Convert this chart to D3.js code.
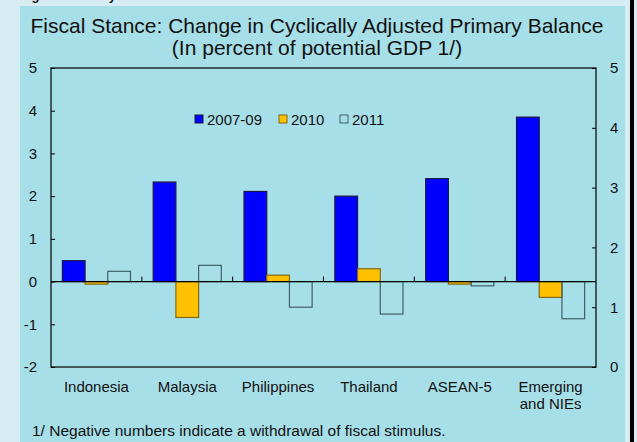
<!DOCTYPE html>
<meta charset="utf-8">
<style>
    body {
        margin: 0;
        background-color: #d6eef3;
    }

    svg {
        font-family: "Liberation Sans", Arial, sans-serif;
        display: block;
    }

    text {
        fill: #111;
    }
</style>

<body>
    <script src="https://cdn.jsdelivr.net/npm/d3@7"></script>
    <script>
        // data
        var categories = ["Indonesia", "Malaysia", "Philippines", "Thailand", "ASEAN-5", "Emerging|and NIEs"];
        var seriesNames = ["2007-09", "2010", "2011"];
        var v2007 = [0.49, 2.33, 2.11, 2.0, 2.41, 3.85];
        var v2010 = [-0.06, -0.84, 0.15, 0.30, -0.06, -0.37];
        var v2011 = [0.24, 0.38, -0.60, -0.76, -0.10, -0.87];
        var leftTicks = [-2, -1, 0, 1, 2, 3, 4, 5];
        var rightTicks = [0, 1, 2, 3, 4, 5];

        var fills = ["#0000ff", "#ffc000", "none"],
            strokes = ["#1a1a40", "#806a10", "#3e6066"];

        var W = 637, H = 442;
        var margin = {top: 68, right: 41, bottom: 75, left: 51},
            width = W - margin.left - margin.right,
            height = H - margin.top - margin.bottom;

        var svg = d3.select("body").append("svg")
            .attr("width", W)
            .attr("height", H);

        // panel
        svg.append("rect")
            .attr("x", 20).attr("y", 6)
            .attr("width", 605).attr("height", H - 6)
            .attr("fill", "#a7dfe9");
        svg.append("rect")
            .attr("x", 630).attr("y", 0)
            .attr("width", 4).attr("height", H)
            .attr("fill", "#000");

        // cut off heading at the very top
        svg.append("text")
            .attr("x", 20).attr("y", 0)
            .style("font-weight", "bold")
            .style("font-size", "13px")
            .text("Figure 2. Policy");

        svg.append("text")
            .attr("x", 317).attr("y", 33)
            .attr("text-anchor", "middle")
            .style("font-size", "21px")
            .text("Fiscal Stance: Change in Cyclically Adjusted Primary Balance");
        svg.append("text")
            .attr("x", 317).attr("y", 55)
            .attr("text-anchor", "middle")
            .style("font-size", "21px")
            .text("(In percent of potential GDP 1/)");

        var g = svg.append("g")
            .attr("transform", "translate(" + margin.left + "," + margin.top + ")");

        var x = d3.scaleBand()
            .domain(categories)
            .range([0, width])
            .paddingInner(0.25)
            .paddingOuter(0.125);

        var xs = d3.scaleBand()
            .domain(seriesNames)
            .range([0, x.bandwidth()]);

        var y = d3.scaleLinear().domain([-2, 5]).range([height, 0]);
        var y2 = d3.scaleLinear().domain([0, 5]).range([height, 0]);

        // bars
        var allValues = [v2007, v2010, v2011];
        seriesNames.forEach(function(s, si) {
            g.selectAll(".bar" + si)
                .data(categories)
                .enter().append("rect")
                .attr("class", "bar" + si)
                .attr("x", function(c) { return x(c) + xs(s); })
                .attr("width", xs.bandwidth())
                .attr("y", function(c, i) { return y(Math.max(0, allValues[si][i])); })
                .attr("height", function(c, i) { return Math.abs(y(allValues[si][i]) - y(0)); })
                .attr("fill", fills[si])
                .attr("stroke", strokes[si])
                .attr("stroke-width", 1.2);
        });

        // frame
        g.append("rect")
            .attr("width", width).attr("height", height)
            .attr("fill", "none")
            .attr("stroke", "#111")
            .attr("stroke-width", 1.3);

        // zero line with category dividers
        g.append("line")
            .attr("x1", 0).attr("x2", width)
            .attr("y1", y(0)).attr("y2", y(0))
            .attr("stroke", "#000").attr("stroke-width", 1.3);
        g.selectAll(".div")
            .data(categories.slice(1))
            .enter().append("line")
            .attr("x1", function(c) { return x(c) - x.step() * x.paddingInner() / 2; })
            .attr("x2", function(c) { return x(c) - x.step() * x.paddingInner() / 2; })
            .attr("y1", y(0)).attr("y2", y(0) - 5)
            .attr("stroke", "#000");

        // axes (plain hyphen for minus, like the original)
        var fmt = function(d) { return String(d); };
        var yAxis = d3.axisLeft(y).tickValues(leftTicks).tickFormat(fmt)
            .tickSizeInner(-4).tickSizeOuter(0).tickPadding(14);
        var yAxis2 = d3.axisRight(y2).tickValues(rightTicks).tickFormat(fmt)
            .tickSizeInner(-4).tickSizeOuter(0).tickPadding(14);

        var ga = g.append("g").call(yAxis);
        var gb = g.append("g").attr("transform", "translate(" + width + ",0)").call(yAxis2);
        [ga, gb].forEach(function(a) {
            a.select(".domain").remove();
            a.selectAll("line").attr("stroke", "#000");
            a.selectAll("text").style("font-size", "15px").style("font-family", "Liberation Sans, Arial, sans-serif").attr("fill", "#111");
        });

        // category labels
        var lab = g.selectAll(".cat")
            .data(categories)
            .enter().append("text")
            .attr("x", function(c) { return x(c) + x.bandwidth() / 2; })
            .attr("y", 392 - margin.top)
            .attr("text-anchor", "middle")
            .style("font-size", "15px");
        lab.each(function(c) {
            var parts = c.split("|");
            var t = d3.select(this);
            parts.forEach(function(p, i) {
                t.append("tspan")
                    .attr("x", t.attr("x"))
                    .attr("dy", i ? 17 : 0)
                    .text(p);
            });
        });

        // legend
        var legX = [195, 279, 340];
        var leg = g.selectAll(".leg")
            .data(seriesNames)
            .enter().append("g")
            .attr("transform", function(d, i) { return "translate(" + (legX[i] - margin.left) + "," + (115 - margin.top) + ")"; });
        leg.append("rect")
            .attr("width", 8).attr("height", 8)
            .attr("fill", function(d, i) { return fills[i]; })
            .attr("stroke", function(d, i) { return strokes[i]; });
        leg.append("text")
            .attr("x", 12).attr("y", 10)
            .style("font-size", "15px")
            .text(function(d) { return d; });

        // footnote
        svg.append("text")
            .attr("x", 32).attr("y", 436)
            .style("font-size", "15.5px")
            .text("1/ Negative numbers indicate a withdrawal of fiscal stimulus.");
    </script>
</body>

</html>
